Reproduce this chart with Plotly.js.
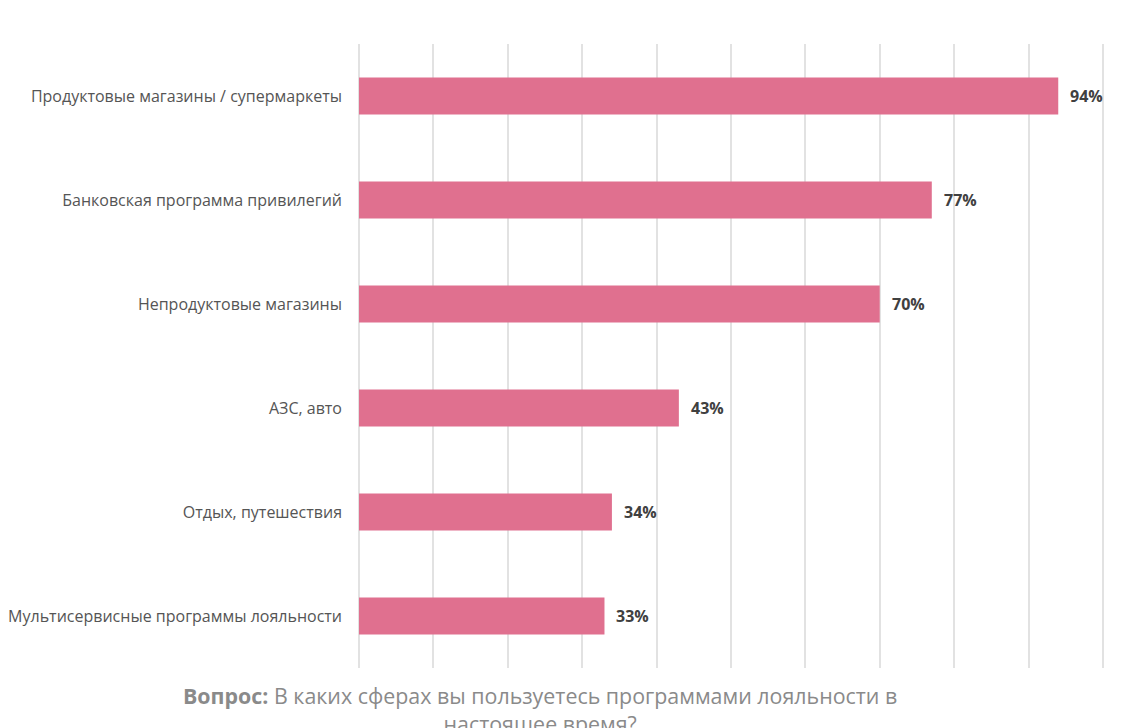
<!DOCTYPE html>
<html>
<head>
<meta charset="utf-8">
<script src="https://cdn.plot.ly/plotly-3.0.1.min.js"></script>
<style>html,body{margin:0;padding:0;background:#fff;}#chart{width:1122px;height:728px;}</style>
</head>
<body>
<div id="chart"></div>
<script>
const categories = [
  "Продуктовые магазины / супермаркеты",
  "Банковская программа привилегий",
  "Непродуктовые магазины",
  "АЗС, авто",
  "Отдых, путешествия",
  "Мультисервисные программы лояльности"
];
const values = [94, 77, 70, 43, 34, 33];
const questionLabel = "Вопрос:";
const questionText = "В каких сферах вы пользуетесь программами лояльности в<br>настоящее время?";

const trace = {
  type: "bar",
  orientation: "h",
  y: categories,
  x: values,
  marker: {color: "#e0708f"},
  hoverinfo: "none"
};

const valueAnnotations = categories.map((c, i) => ({
  x: values[i], y: c, xref: "x", yref: "y",
  text: "<b>" + values[i] + "%</b>",
  showarrow: false, xanchor: "left", xshift: 10,
  font: {family: "Open Sans", size: 16, color: "#404040"}
}));

const layout = {
  width: 1122, height: 728,
  margin: {l: 359, r: 18, t: 44, b: 60},
  paper_bgcolor: "#fff", plot_bgcolor: "#fff",
  bargap: 0.645,
  showlegend: false,
  xaxis: {
    range: [0, 100.15], dtick: 10, tick0: 0,
    showgrid: true, gridcolor: "#e2e2e2", gridwidth: 2,
    zeroline: true, zerolinecolor: "#e2e2e2", zerolinewidth: 2,
    showline: false, showticklabels: false, ticks: "", fixedrange: true
  },
  yaxis: {
    autorange: "reversed", showgrid: false, zeroline: false, showline: false,
    ticks: "", ticklabelstandoff: 16,
    tickfont: {family: "Open Sans", size: 16, color: "#555"}
  },
  annotations: valueAnnotations.concat([{
    xref: "paper", yref: "paper", x: 0.2433, y: -0.017, yanchor: "top", xanchor: "center",
    align: "center", showarrow: false,
    text: "<b>" + questionLabel + "</b> " + questionText,
    font: {family: "Open Sans", size: 21.4, color: "#8a8a8a"}
  }])
};

Plotly.newPlot("chart", [trace], layout, {displayModeBar: false, staticPlot: true});
</script>
</body>
</html>
